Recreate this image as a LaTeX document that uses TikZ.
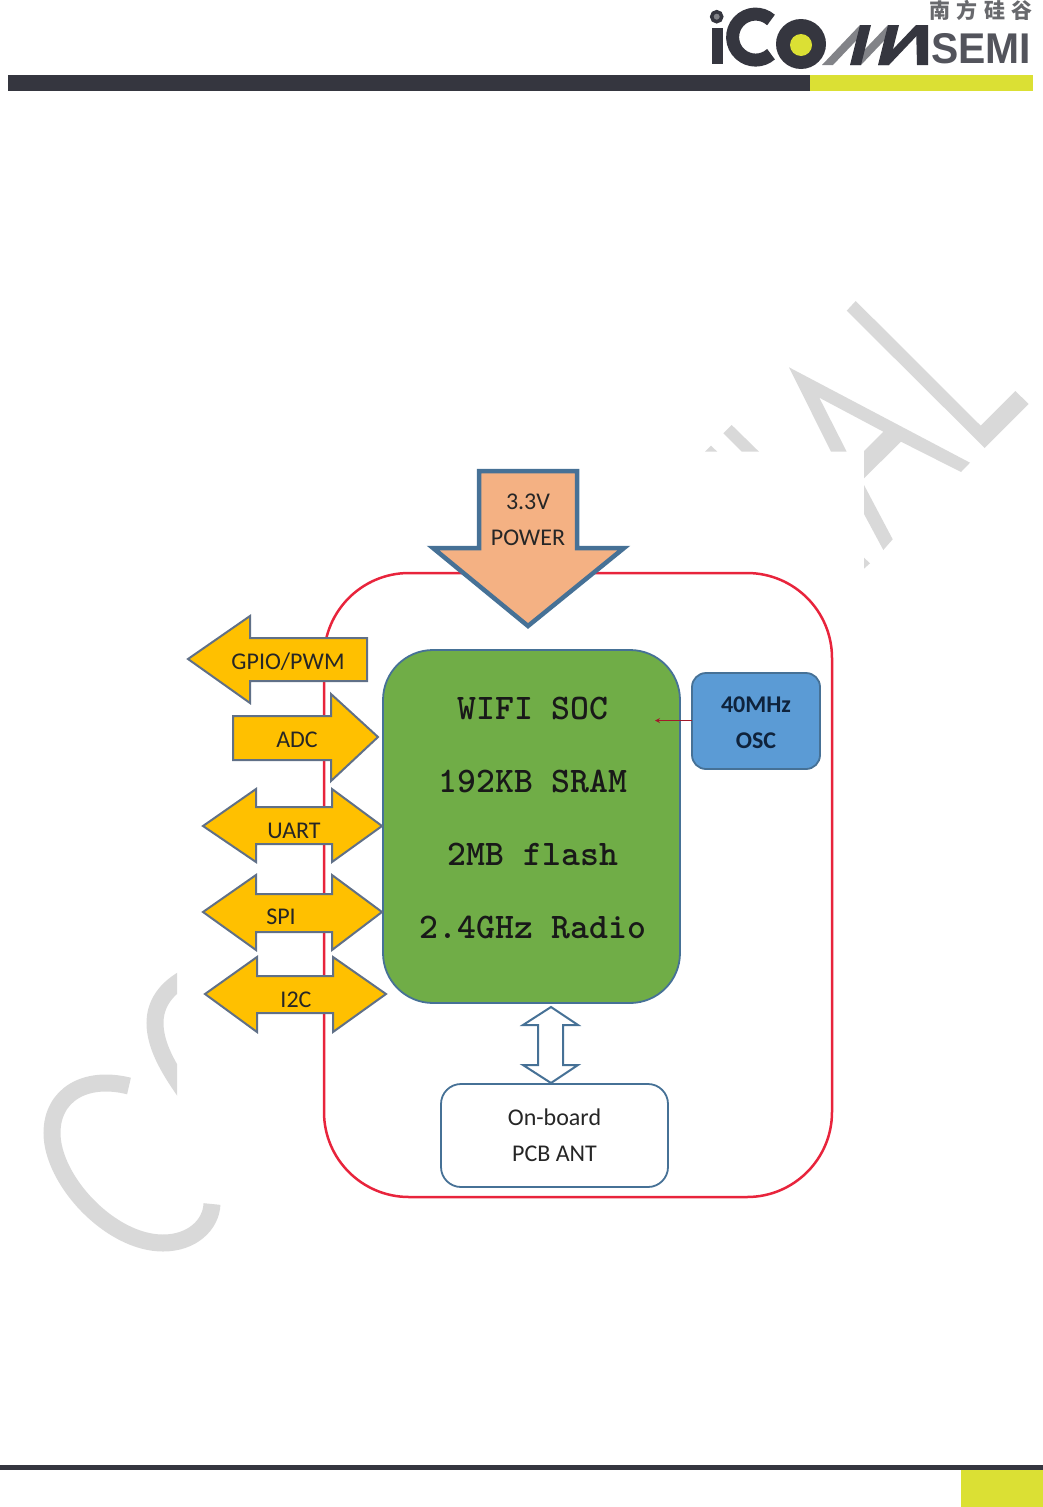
\documentclass[tikz,border=0pt]{standalone}
\usepackage{fontspec}
\setmainfont{Carlito}
\setsansfont{Liberation Sans}
\newfontfamily\cjk{Noto Sans CJK SC}
\usepackage{xcolor}
\usetikzlibrary{arrows,positioning}
\definecolor{bar-dark}{RGB}{53,54,63}
\definecolor{bar-yellow}{RGB}{219,224,52}
\definecolor{logo-gray}{RGB}{130,131,136}
\definecolor{mark-gray}{RGB}{217,217,217}
\definecolor{soc-green}{RGB}{112,173,71}
\definecolor{osc-blue}{RGB}{91,155,213}
\definecolor{edge-blue}{RGB}{70,113,150}
\definecolor{bus-orange}{RGB}{255,192,0}
\definecolor{bus-edge}{RGB}{96,112,135}
\definecolor{power-fill}{RGB}{244,177,131}
\definecolor{board-red}{RGB}{232,36,60}
\definecolor{osc-text}{RGB}{15,35,60}

\begin{document}
\begin{tikzpicture}[x=1pt, y=-1pt,
    every node/.style={inner sep=0pt, outer sep=0pt},
    txt/.style={font=\fontsize{24}{36}\selectfont, text=black!85, align=center},
    chip/.style={font=\fontsize{36}{73}\ttfamily\bfseries\selectfont, text=black!90, align=center},
    box/.style={rectangle, draw=edge-blue, line width=1.8pt},
    bus/.style={draw=bus-edge, fill=bus-orange, line width=2pt},
    wmark/.style={fill=mark-gray},
    arrow/.style={->, >=stealth, board-red!70!black, line width=1.2pt}]

    \useasboundingbox (0,0) rectangle (1043,1507);

    % Watermark
    \fill[wmark] (855.7,301) -- (846.7,310.7) -- (984.7,448) -- (1028.7,404) -- (1015.3,391) -- (980.7,425.7) -- cycle;
    \fill[wmark] (789,367.3) -- (970,462.7) -- (961,472) -- (901,441.7) -- (864,478.3) -- (864,451) -- (883.3,431.7) -- (819.3,397.7) -- (846.7,451.7) -- (831,451.7) -- cycle;
    \fill[wmark] (864,485) -- (892.7,539.3) -- (883.3,550) -- (864,514) -- cycle;
    \fill[wmark] (864,557.7) -- (870,563.3) -- (864,568.7) -- cycle;
    \fill[wmark] (731.7,425) -- (723.3,433.3) -- (741.7,451.7) -- (759,451.7) -- cycle;
    \fill[wmark] (711,445.7) -- (705,451.7) -- (717.3,451.7) -- cycle;
    \draw[mark-gray, line width=17pt] (129,1086) .. controls (85,1075) and (52,1095) .. (52,1133) .. controls (52,1180) and (110,1243) .. (163,1243) .. controls (192,1243) and (211,1225) .. (212,1204);
    \begin{scope}
        \clip (140,960) rectangle (177,1110);
        \draw[mark-gray, line width=17pt] (185,978) .. controls (160,992) and (155,1010) .. (155,1023) .. controls (155,1045) and (168,1068) .. (185,1092);
    \end{scope}

    % Header and footer bars
    \fill[bar-dark] (8,75) rectangle (810,91);
    \fill[bar-yellow] (810,75) rectangle (1033,91);
    \fill[bar-dark] (0,1465) rectangle (1043,1470);
    \fill[bar-yellow] (961,1470) rectangle (1043,1507);

    % Logo
    \draw[bar-dark, line width=3.5pt, fill=logo-gray] (716.7,16.7) circle[radius=5pt];
    \fill[bar-dark] (711.5,28) rectangle (723,64);
    \draw[bar-dark, line width=13pt] (771,20) arc[start angle=48, end angle=312, radius=23pt];
    \foreach \dx/\shade in {0/logo-gray,28/logo-gray,56/bar-dark} {
        \fill[\shade] (822+\dx,65) -- (833+\dx,65) -- (871+\dx,25) -- (860+\dx,25) -- cycle;
    }
    \foreach \dx in {0,28} {
        \fill[bar-dark] (860+\dx,25) -- (871+\dx,25) -- (861+\dx,65) -- (850+\dx,65) -- cycle;
    }
    \fill[bar-dark] (916,25) -- (928,25) -- (928,65) -- (917,65) -- cycle;
    \fill[bar-dark] (801,44) circle[radius=25pt];
    \fill[bar-yellow] (801,45) circle[radius=11pt];
    \node[font=\fontsize{43}{43}\sffamily\bfseries\selectfont, text=bar-dark!85, xscale=0.95] (semi) at (981,49) {SEMI};
    \node[font=\fontsize{21}{21}\cjk\bfseries\selectfont, text=logo-gray!80!black] (cn) at (981,10) {南\hspace{6.5pt}方\hspace{6.5pt}硅\hspace{6.5pt}谷};

    % Board outline
    \node[rectangle, draw=board-red, line width=2.5pt, rounded corners=85pt, minimum width=508pt, minimum height=624pt] (board) at (578,885) {};

    % Power arrow
    \draw[draw=edge-blue, fill=power-fill, line width=4.5pt] (479,471) -- (577,471) -- (577,548) -- (624,548) -- (528,626) -- (433,548) -- (479,548) -- cycle;
    \node[txt] (power) at (528,520) {3.3V\\POWER};

    % Boxes
    \node[box, fill=soc-green, rounded corners=50pt, minimum width=297pt, minimum height=353pt] (soc) at (531.5,826.5) {};
    \node[chip] (soctext) at (533,818) {WIFI SOC\\192KB SRAM\\2MB flash\\2.4GHz Radio};
    \node[box, fill=osc-blue, rounded corners=14pt, minimum width=128pt, minimum height=96pt] (osc) at (756,721) {};
    \node[txt, font=\fontsize{24}{36}\bfseries\selectfont, text=osc-text] (osctext) at (756,723) {40MHz\\OSC};
    \node[box, fill=white, rounded corners=20pt, minimum width=227pt, minimum height=103pt, txt] (ant) at (554.5,1135.5) {On-board\\PCB ANT};

    % Bus arrows
    \draw[bus] (188,659) -- (250,616) -- (250,638) -- (367,638) -- (367,681) -- (250,681) -- (250,703) -- cycle;
    \node[txt] (gpio) at (288,662) {GPIO/PWM};
    \draw[bus] (378,737) -- (331,694) -- (331,716) -- (233,716) -- (233,760) -- (331,760) -- (331,781) -- cycle;
    \node[txt] (adc) at (297,740) {ADC};
    \draw[bus] (203,826) -- (256,789) -- (256,807) -- (332,807) -- (332,789) -- (382,826) -- (332,862) -- (332,844) -- (256,844) -- (256,862) -- cycle;
    \node[txt] (uart) at (294,831) {UART};
    \draw[bus] (203,912) -- (256,875) -- (256,894) -- (332,894) -- (332,875) -- (382,912) -- (332,950) -- (332,932) -- (256,932) -- (256,950) -- cycle;
    \node[txt] (spi) at (281,917) {SPI};
    \draw[bus] (205,994) -- (257,957) -- (257,976) -- (333,976) -- (333,957) -- (386,994) -- (333,1032) -- (333,1013) -- (257,1013) -- (257,1032) -- cycle;
    \node[txt] (itwoc) at (296,1000) {I2C};

    % Antenna link
    \draw[draw=edge-blue, fill=white, line width=2pt] (551,1007) -- (578,1025) -- (563,1025) -- (563,1065) -- (578,1065) -- (551,1083) -- (523,1065) -- (538,1065) -- (538,1025) -- (523,1025) -- cycle;

    % Clock arrow
    \coordinate (clkin) at (655,720.5);
    \draw[arrow] (osc.west |- clkin) -- (clkin);
\end{tikzpicture}
\end{document}
